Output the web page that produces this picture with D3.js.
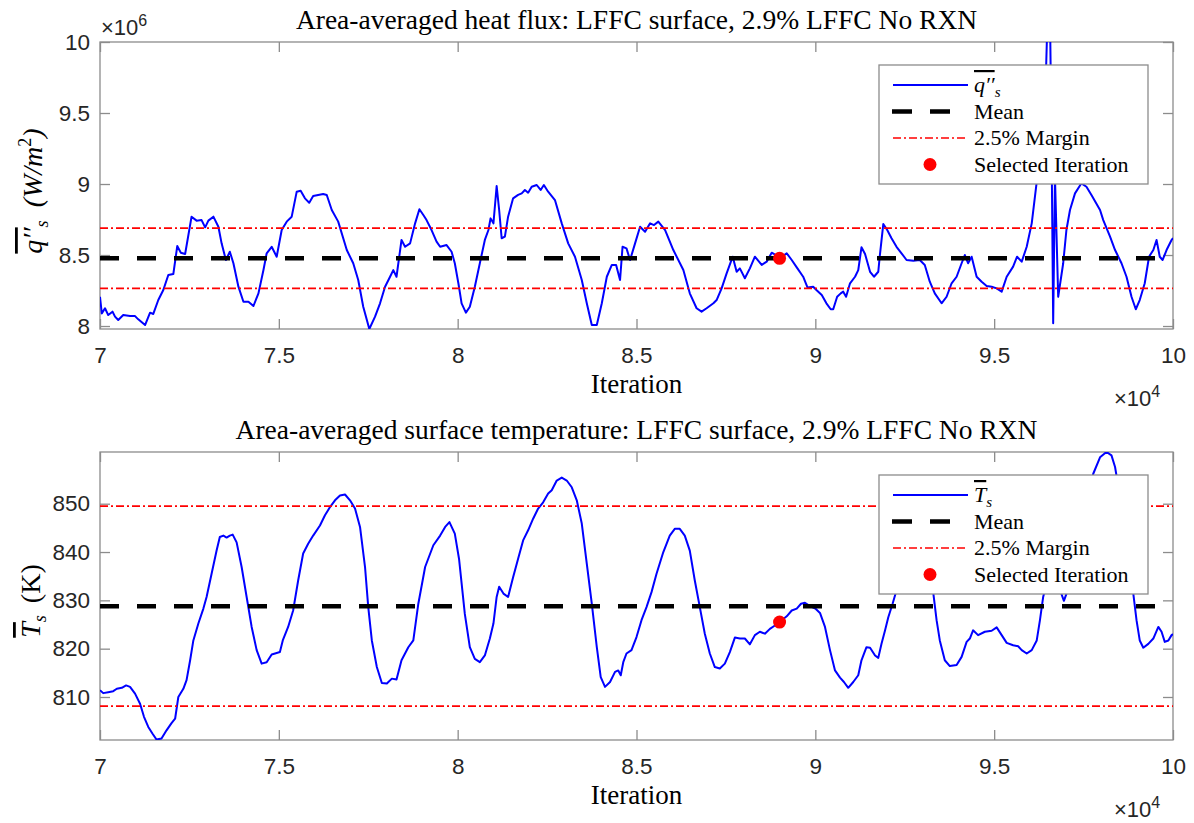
<!DOCTYPE html>
<html><head><meta charset="utf-8">
<script src="https://cdn.jsdelivr.net/npm/d3@7"></script>
<style>
body{margin:0;background:#fff;}
svg{display:block;}
</style></head><body>
<svg id="chart" width="1194" height="823"></svg>
<script>
// ---------- DATA (iteration in 1e4, heat flux in 1e6 W/m^2, temperature in K) ----------
const heatIter = [7.000,7.005,7.014,7.023,7.035,7.042,7.051,7.065,7.084,7.098,7.107,7.126,7.140,7.149,7.163,7.177,7.191,7.205,7.216,7.226,7.238,7.256,7.270,7.284,7.294,7.303,7.317,7.331,7.340,7.352,7.363,7.373,7.387,7.401,7.415,7.429,7.443,7.457,7.466,7.480,7.494,7.508,7.522,7.536,7.550,7.561,7.573,7.585,7.596,7.610,7.624,7.634,7.648,7.666,7.690,7.708,7.722,7.736,7.753,7.769,7.783,7.797,7.811,7.820,7.829,7.843,7.853,7.867,7.881,7.893,7.904,7.913,7.927,7.941,7.951,7.969,7.983,7.992,8.002,8.011,8.023,8.034,8.048,8.062,8.076,8.086,8.092,8.100,8.109,8.116,8.123,8.132,8.141,8.155,8.169,8.179,8.188,8.197,8.207,8.221,8.232,8.241,8.253,8.272,8.291,8.309,8.328,8.347,8.361,8.375,8.389,8.403,8.417,8.431,8.443,8.454,8.461,8.472,8.482,8.496,8.510,8.524,8.538,8.549,8.561,8.580,8.603,8.631,8.649,8.668,8.682,8.696,8.715,8.724,8.738,8.752,8.769,8.780,8.789,8.803,8.817,8.831,8.850,8.864,8.878,8.890,8.900,8.920,8.934,8.948,8.966,8.978,8.994,9.003,9.018,9.031,9.043,9.050,9.061,9.071,9.078,9.086,9.097,9.111,9.120,9.129,9.139,9.153,9.164,9.176,9.180,9.190,9.201,9.213,9.227,9.241,9.255,9.274,9.292,9.306,9.320,9.334,9.353,9.367,9.381,9.395,9.409,9.418,9.427,9.437,9.451,9.465,9.479,9.493,9.507,9.521,9.535,9.553,9.564,9.577,9.591,9.605,9.614,9.623,9.637,9.645,9.654,9.660,9.665,9.670,9.679,9.693,9.702,9.712,9.726,9.744,9.758,9.772,9.796,9.805,9.824,9.838,9.856,9.870,9.884,9.896,9.907,9.921,9.933,9.945,9.954,9.963,9.971,9.982,9.996,10.000];
const heatVal = [8.206,8.089,8.125,8.077,8.101,8.066,8.042,8.077,8.070,8.070,8.047,8.007,8.094,8.085,8.183,8.254,8.359,8.366,8.563,8.516,8.507,8.770,8.742,8.746,8.695,8.742,8.770,8.699,8.582,8.465,8.523,8.442,8.277,8.171,8.171,8.141,8.230,8.394,8.512,8.558,8.488,8.676,8.735,8.770,8.946,8.953,8.899,8.868,8.915,8.923,8.930,8.923,8.817,8.735,8.535,8.442,8.324,8.136,7.979,8.066,8.160,8.277,8.347,8.394,8.347,8.606,8.558,8.582,8.723,8.822,8.782,8.746,8.676,8.594,8.558,8.570,8.523,8.442,8.301,8.160,8.094,8.136,8.277,8.442,8.606,8.676,8.758,8.723,8.986,8.817,8.618,8.629,8.770,8.899,8.923,8.934,8.958,8.939,8.981,8.993,8.958,8.993,8.946,8.887,8.723,8.582,8.488,8.324,8.160,8.007,8.007,8.160,8.347,8.430,8.430,8.324,8.558,8.547,8.465,8.582,8.699,8.664,8.723,8.711,8.735,8.676,8.535,8.394,8.230,8.125,8.101,8.125,8.160,8.183,8.265,8.371,8.488,8.382,8.406,8.336,8.406,8.488,8.430,8.453,8.516,8.500,8.477,8.512,8.465,8.413,8.347,8.272,8.277,8.254,8.218,8.160,8.118,8.118,8.206,8.230,8.242,8.206,8.301,8.347,8.394,8.554,8.507,8.382,8.347,8.382,8.488,8.718,8.676,8.618,8.558,8.512,8.465,8.460,8.465,8.430,8.312,8.230,8.160,8.206,8.301,8.347,8.442,8.500,8.442,8.488,8.347,8.312,8.282,8.277,8.265,8.242,8.347,8.418,8.488,8.453,8.558,8.723,8.911,9.099,9.380,9.800,10.600,9.400,8.020,9.050,8.206,8.442,8.676,8.817,8.934,9.005,8.981,8.923,8.817,8.746,8.629,8.535,8.442,8.347,8.206,8.118,8.183,8.301,8.488,8.535,8.606,8.488,8.465,8.535,8.606,8.620];

const tempIter = [7.000,7.009,7.023,7.037,7.047,7.061,7.073,7.084,7.098,7.112,7.123,7.135,7.147,7.158,7.172,7.186,7.200,7.210,7.219,7.233,7.242,7.252,7.261,7.275,7.289,7.298,7.312,7.326,7.335,7.345,7.354,7.363,7.371,7.382,7.396,7.410,7.424,7.438,7.452,7.466,7.480,7.494,7.503,7.511,7.526,7.540,7.554,7.568,7.582,7.596,7.615,7.629,7.643,7.657,7.671,7.685,7.699,7.713,7.727,7.741,7.750,7.760,7.774,7.788,7.802,7.816,7.829,7.843,7.862,7.876,7.890,7.909,7.932,7.951,7.965,7.977,7.992,8.004,8.020,8.034,8.048,8.062,8.076,8.090,8.100,8.109,8.116,8.128,8.141,8.155,8.169,8.183,8.197,8.211,8.225,8.239,8.253,8.263,8.277,8.291,8.305,8.319,8.333,8.347,8.361,8.375,8.389,8.400,8.412,8.426,8.440,8.449,8.456,8.463,8.472,8.486,8.500,8.514,8.528,8.542,8.556,8.575,8.593,8.607,8.621,8.635,8.649,8.663,8.677,8.691,8.705,8.719,8.733,8.747,8.761,8.775,8.789,8.803,8.817,8.831,8.845,8.859,8.873,8.887,8.900,8.920,8.934,8.948,8.960,8.971,8.985,9.000,9.013,9.027,9.041,9.055,9.069,9.080,9.092,9.106,9.120,9.129,9.143,9.153,9.167,9.176,9.185,9.195,9.204,9.216,9.227,9.245,9.270,9.295,9.315,9.330,9.339,9.348,9.362,9.376,9.395,9.409,9.423,9.432,9.441,9.455,9.474,9.493,9.507,9.521,9.535,9.553,9.567,9.577,9.591,9.605,9.619,9.628,9.637,9.650,9.665,9.680,9.695,9.710,9.730,9.755,9.777,9.796,9.814,9.828,9.838,9.855,9.870,9.889,9.898,9.907,9.917,9.931,9.945,9.959,9.968,9.977,9.987,9.996,10.000];
const tempVal = [811.4,810.8,811.0,811.2,811.7,811.9,812.4,812.1,810.7,808.6,805.9,803.8,802.4,801.2,801.4,803.1,804.6,805.5,810.0,811.7,813.5,817.6,821.7,825.2,828.3,830.7,835.5,840.3,843.1,843.4,843.0,843.4,843.6,842.0,836.9,830.7,824.5,819.7,816.9,817.2,818.8,819.1,819.3,821.7,824.5,827.9,834.1,839.7,841.7,843.4,845.5,847.6,849.3,850.7,851.7,851.9,850.7,849.0,845.2,836.9,828.6,821.7,816.2,812.9,812.8,813.8,813.6,817.6,820.3,821.7,829.3,836.9,841.4,843.4,845.2,846.2,843.8,838.5,827.2,820.3,817.9,817.2,818.6,822.1,825.2,830.7,832.8,831.4,830.7,834.8,838.6,842.4,844.5,846.9,849.0,850.3,852.1,852.8,854.8,855.4,854.8,853.4,850.7,845.9,837.6,829.3,820.3,814.1,812.1,813.1,815.2,815.5,814.5,817.2,819.0,819.7,822.4,825.9,828.6,831.7,835.5,840.0,843.4,844.8,844.8,843.4,840.3,834.1,828.6,823.1,819.0,816.2,815.9,816.9,819.3,822.3,822.1,822.1,820.9,822.8,823.5,823.1,824.1,824.8,825.5,826.7,827.9,828.3,829.3,829.5,828.8,828.3,827.4,824.5,819.7,815.5,814.0,813.1,811.9,813.1,814.5,817.6,820.3,820.2,818.6,818.1,821.0,823.8,826.5,829.3,832.1,835.5,837.5,837.0,834.5,831.4,825.9,821.7,817.6,816.4,816.6,818.3,821.4,822.1,823.8,822.8,823.5,823.7,824.4,822.8,821.2,820.7,820.5,819.7,819.0,819.7,821.7,825.9,830.7,834.5,836.0,833.0,829.9,833.0,840.0,849.0,856.2,859.6,860.7,860.0,857.6,850.0,841.0,831.4,825.9,821.7,820.2,821.0,822.1,824.5,823.5,821.4,821.7,822.8,823.0];

const heatMean = 8.477;
const heatMargins = [8.265, 8.689];
const tempMean = 828.8;
const tempMargins = [808.1, 849.5];
const heatSelected = {iter: 8.900, value: 8.477};
const tempSelected = {iter: 8.900, value: 825.5};

const xTicks = [7, 7.5, 8, 8.5, 9, 9.5, 10];
const heatTicks = [8, 8.5, 9, 9.5, 10];
const tempTicks = [810, 820, 830, 840, 850];

const heatTitle = "Area-averaged heat flux: LFFC surface, 2.9% LFFC No RXN";
const tempTitle = "Area-averaged surface temperature: LFFC surface, 2.9% LFFC No RXN";
const legendRest = ["Mean", "2.5% Margin", "Selected Iteration"];

// ---------- DRAWING ----------
const svg = d3.select("#chart");
const L = 100, R = 1173;
const SERIF = "'Liberation Serif', 'DejaVu Serif', serif";
const SANS = "'Liberation Sans', Arial, sans-serif";
const AXC = "#8c8c8c", TXT = "#262626";
const x = d3.scaleLinear().domain([7, 10]).range([L, R]);

function addParts(textSel, parts) {
  parts.forEach(p => {
    const t = textSel.append("tspan").text(p.t);
    if (p.italic) t.attr("font-style", "italic");
    if (p.size) t.attr("font-size", p.size);
    if (p.dy) t.attr("dy", p.dy);
    if (p.dx) t.attr("dx", p.dx);
    if (p.over) t.style("text-decoration", "overline");
  });
}

function drawPanel(p) {
  const y = d3.scaleLinear().domain(p.yDomain).range([p.bottom, p.top]);
  const g = svg.append("g");
  const clipId = "clip-" + p.id;
  svg.append("clipPath").attr("id", clipId).append("rect")
    .attr("x", L).attr("y", p.top).attr("width", R - L).attr("height", p.bottom - p.top);

  // axes
  const axB = g.append("g").attr("transform", `translate(0,${p.bottom})`)
    .call(d3.axisBottom(x).tickValues(xTicks).tickSize(-10).tickSizeOuter(0).tickPadding(18).tickFormat(d => String(d)));
  const axT = g.append("g").attr("transform", `translate(0,${p.top})`)
    .call(d3.axisTop(x).tickValues(xTicks).tickSize(-10).tickSizeOuter(0).tickFormat(""));
  const axL = g.append("g").attr("transform", `translate(${L},0)`)
    .call(d3.axisLeft(y).tickValues(p.yTicks).tickSize(-10).tickSizeOuter(0).tickPadding(10).tickFormat(d => String(d)));
  const axR = g.append("g").attr("transform", `translate(${R},0)`)
    .call(d3.axisRight(y).tickValues(p.yTicks).tickSize(-10).tickSizeOuter(0).tickFormat(""));
  [axB, axT, axL, axR].forEach(a => {
    a.select(".domain").remove();
    a.selectAll(".tick line").attr("stroke", AXC).attr("stroke-width", 1.3);
    a.selectAll(".tick text").attr("fill", TXT).attr("font-family", SANS).attr("font-size", 22.5);
  });
  g.append("rect").attr("x", L).attr("y", p.top).attr("width", R - L).attr("height", p.bottom - p.top)
    .attr("fill", "none").attr("stroke", AXC).attr("stroke-width", 1.3);

  // data line
  const pts = p.iter.map((it, i) => [it, p.vals[i]]);
  g.append("path").datum(pts).attr("clip-path", `url(#${clipId})`)
    .attr("d", d3.line().x(d => x(d[0])).y(d => y(d[1])))
    .attr("fill", "none").attr("stroke", "#0000ff").attr("stroke-width", 2).attr("stroke-linejoin", "round");

  // mean
  g.append("line").attr("x1", x(7)).attr("x2", x(10)).attr("y1", y(p.mean)).attr("y2", y(p.mean))
    .attr("stroke", "#000").attr("stroke-width", 4.5).attr("stroke-dasharray", "19,18");
  // margins
  p.margins.forEach(m => g.append("line").attr("x1", x(7)).attr("x2", x(10)).attr("y1", y(m)).attr("y2", y(m))
    .attr("stroke", "#ff0000").attr("stroke-width", 1.6).attr("stroke-dasharray", "8,3,2,3"));
  // selected
  g.append("circle").attr("cx", x(p.sel.iter)).attr("cy", y(p.sel.value)).attr("r", 6.5).attr("fill", "#ff0000");

  // title
  g.append("text").attr("x", (L + R) / 2).attr("y", p.top - 13).attr("text-anchor", "middle")
    .attr("font-family", SERIF).attr("font-size", 27.5).attr("fill", "#000").text(p.title);
  // x label
  g.append("text").attr("x", (L + R) / 2).attr("y", p.bottom + 64).attr("text-anchor", "middle")
    .attr("font-family", SERIF).attr("font-size", 27).attr("fill", "#000").text("Iteration");
  // x exponent
  const ex = g.append("text").attr("x", 1114).attr("y", p.bottom + 77)
    .attr("font-family", SANS).attr("font-size", 22).attr("fill", TXT);
  addParts(ex, [{t: "\u00d710"}, {t: "4", size: 16, dy: -9}]);
  // y exponent
  if (p.yExp) {
    const ey = g.append("text").attr("x", 101).attr("y", p.top - 7)
      .attr("font-family", SANS).attr("font-size", 22).attr("fill", TXT);
    addParts(ey, [{t: "\u00d710"}, {t: p.yExp, size: 16, dy: -9}]);
  }
  // y label
  const yl = g.append("text").attr("transform", `translate(${p.ylabX},${p.ylabY}) rotate(-90)`)
    .attr("text-anchor", "middle").attr("font-family", SERIF).attr("font-size", p.ylabSize).attr("fill", "#000");
  addParts(yl, p.ylabParts);

  // legend
  const lx = 879, lw = 269, ly = p.legTop, lh = 119;
  const lg = g.append("g");
  lg.append("rect").attr("x", lx).attr("y", ly).attr("width", lw).attr("height", lh)
    .attr("fill", "#fff").attr("stroke", AXC).attr("stroke-width", 1.3);
  const rows = [20, 46.5, 73, 99.5].map(o => ly + o);
  lg.append("line").attr("x1", 893).attr("x2", 968).attr("y1", rows[0]).attr("y2", rows[0])
    .attr("stroke", "#0000ff").attr("stroke-width", 2);
  lg.append("line").attr("x1", 892).attr("x2", 968).attr("y1", rows[1]).attr("y2", rows[1])
    .attr("stroke", "#000").attr("stroke-width", 4.5).attr("stroke-dasharray", "20,18");
  lg.append("line").attr("x1", 893).attr("x2", 968).attr("y1", rows[2]).attr("y2", rows[2])
    .attr("stroke", "#ff0000").attr("stroke-width", 1.6).attr("stroke-dasharray", "8,3,2,3");
  lg.append("circle").attr("cx", 930).attr("cy", rows[3]).attr("r", 6.5).attr("fill", "#ff0000");
  const t0 = lg.append("text").attr("x", 974).attr("y", rows[0] + 7)
    .attr("font-family", SERIF).attr("font-size", 22).attr("fill", "#000");
  addParts(t0, p.legParts);
  legendRest.forEach((s, i) => lg.append("text").attr("x", 974).attr("y", rows[i + 1] + 7)
    .attr("font-family", SERIF).attr("font-size", 22).attr("fill", "#000").text(s));
}

drawPanel({
  id: "heat", top: 42, bottom: 329, yDomain: [7.979, 10], yTicks: heatTicks,
  iter: heatIter, vals: heatVal, mean: heatMean, margins: heatMargins, sel: heatSelected,
  title: heatTitle, yExp: "6", ylabX: 42, ylabY: 191, legTop: 65, ylabSize: 28,
  ylabParts: [{t: "q\u2032\u2032", italic: true, over: true}, {t: "s", italic: true, size: 18, dy: 6},
              {t: " (W/m", italic: true, size: 28, dy: -6, dx: 6}, {t: "2", size: 18, dy: -11}, {t: ")", italic: true, size: 28, dy: 11}],
  legParts: [{t: "q\u2032\u2032", italic: true, over: true}, {t: "s", italic: true, size: 15, dy: 5}]
});
drawPanel({
  id: "temp", top: 452, bottom: 740, yDomain: [801.1, 860.7], yTicks: tempTicks,
  iter: tempIter, vals: tempVal, mean: tempMean, margins: tempMargins, sel: tempSelected,
  title: tempTitle, yExp: null, ylabX: 40, ylabY: 601, legTop: 475, ylabSize: 28,
  ylabParts: [{t: "T", italic: true, over: true}, {t: "s", italic: true, size: 18, dy: 6}, {t: " (K)", size: 28, dy: -6, dx: 5}],
  legParts: [{t: "T", italic: true, over: true}, {t: "s", italic: true, size: 15, dy: 5}]
});
</script>
</body></html>
